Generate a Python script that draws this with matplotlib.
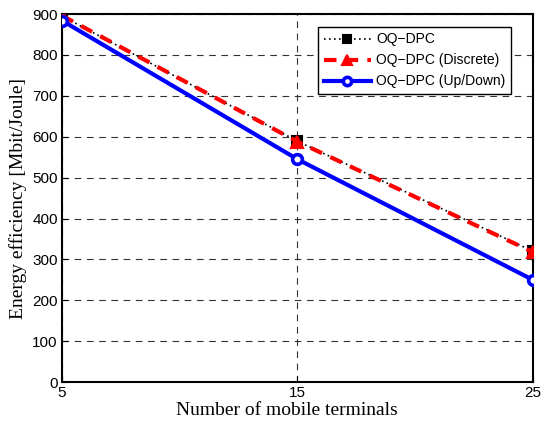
import matplotlib.pyplot as plt

terminals = [5, 15, 25]
ee_oqdpc = [895, 589, 320]
ee_discrete = [896, 588, 318]
ee_updown = [884, 545, 250]

fig = plt.figure(figsize=(5.41, 4.26), dpi=100)
ax = fig.add_axes([0.1146, 0.103, 0.8704, 0.864])

ax.plot(terminals, ee_oqdpc, color='black', linestyle=(0, (1, 2)), linewidth=1.2,
        marker='s', markersize=6.5, markerfacecolor='black', markeredgecolor='black',
        markeredgewidth=1.5, label='OQ\u2212DPC', zorder=3)
ax.plot(terminals, ee_discrete, color='red', linestyle=(0, (3, 2.2)), linewidth=3,
        marker='^', markersize=8, markerfacecolor='red', markeredgecolor='red',
        markeredgewidth=1.5, label='OQ\u2212DPC (Discrete)', zorder=4)
ax.plot(terminals, ee_updown, color='blue', linestyle='-', linewidth=3,
        marker='o', markersize=7, markerfacecolor='white', markeredgecolor='blue',
        markeredgewidth=2.6, label='OQ\u2212DPC (Up/Down)', zorder=5)

ax.set_xlim(5, 25)
ax.set_ylim(0, 900)
ax.set_xticks([5, 15, 25])
ax.set_yticks(range(0, 901, 100))
ax.tick_params(direction='in', labelsize=11, length=4, pad=3)
for lab in ax.get_xticklabels() + ax.get_yticklabels():
    lab.set_family('Liberation Sans')
ax.grid(True, color='#333333', linestyle=(0, (6, 5)), linewidth=0.8)
for sp in ax.spines.values():
    sp.set_linewidth(1.5)

ax.set_xlabel('Number of mobile terminals', family='Liberation Serif', fontsize=14, labelpad=1)
ax.xaxis.label.set_x(0.478)
ax.set_ylabel('Energy efficiency [Mbit/Joule]', family='Liberation Serif', fontsize=14, labelpad=4)

leg = ax.legend(loc='upper right', bbox_to_anchor=(0.954, 0.965), fancybox=False,
                framealpha=1, edgecolor='black', prop={'family': 'Liberation Sans', 'size': 10},
                handlelength=3.4, borderpad=0.4, labelspacing=0.5, handletextpad=0.4,
                markerscale=0.85, borderaxespad=0)
leg.get_frame().set_linewidth(1.0)

fig.savefig('out.png', dpi=100)
